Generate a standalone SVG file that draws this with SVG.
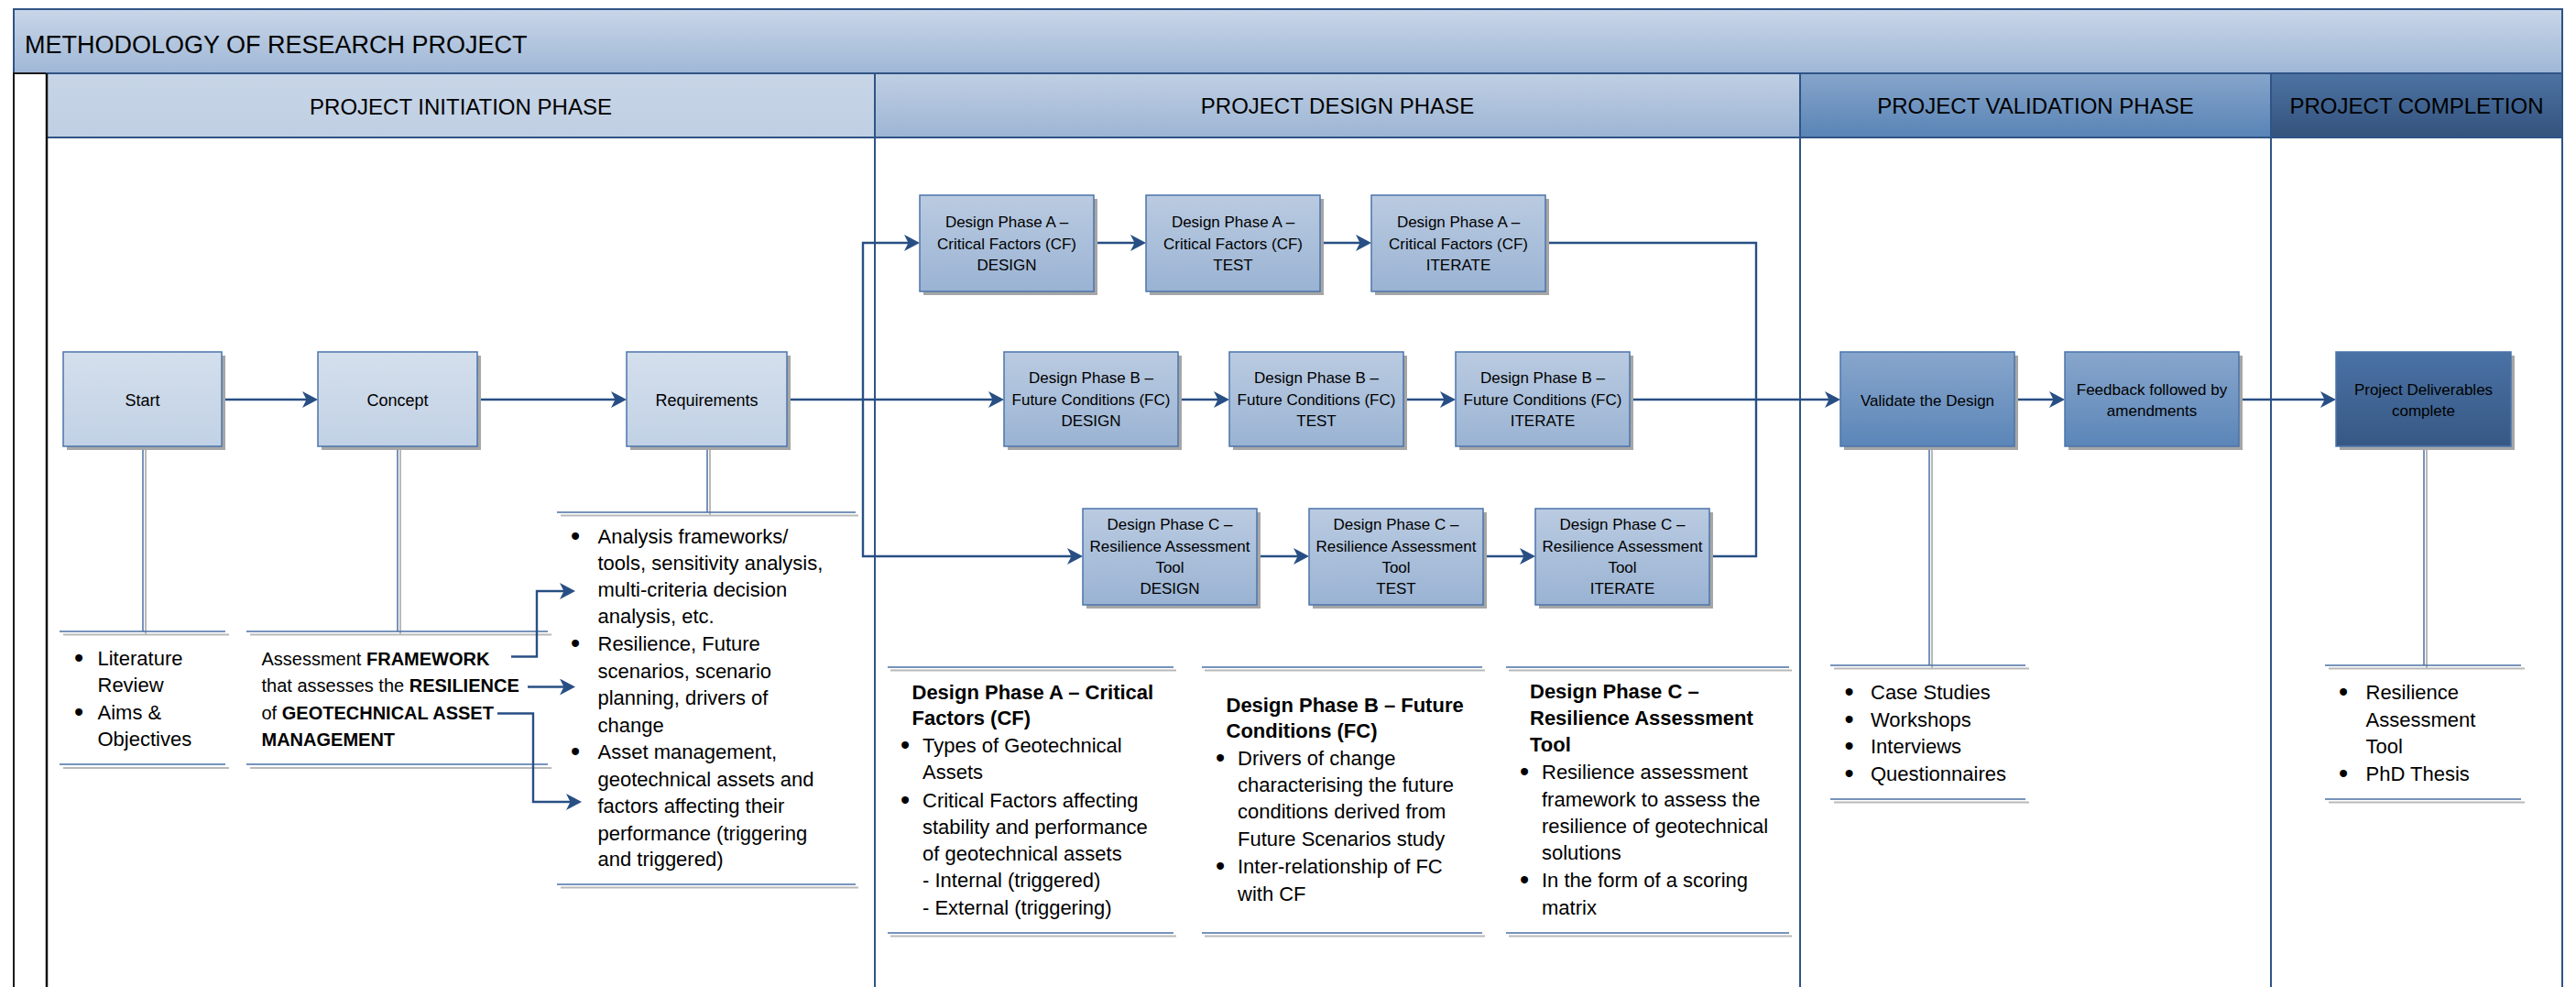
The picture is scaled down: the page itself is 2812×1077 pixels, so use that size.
<svg xmlns="http://www.w3.org/2000/svg" width="2812" height="1077" viewBox="0 0 2812 1077">
<defs>
<linearGradient id="gTitle" x1="0" y1="0" x2="0" y2="1"><stop offset="0" stop-color="#c9d6e8"/><stop offset="1" stop-color="#9fb7d6"/></linearGradient>
<linearGradient id="gHInit" x1="0" y1="0" x2="0" y2="1"><stop offset="0" stop-color="#c7d5e7"/><stop offset="1" stop-color="#c0cfe3"/></linearGradient>
<linearGradient id="gHDesign" x1="0" y1="0" x2="0" y2="1"><stop offset="0" stop-color="#c0cfe3"/><stop offset="1" stop-color="#9db5d4"/></linearGradient>
<linearGradient id="gHValid" x1="0" y1="0" x2="0" y2="1"><stop offset="0" stop-color="#86a5cb"/><stop offset="1" stop-color="#5984b6"/></linearGradient>
<linearGradient id="gHComp" x1="0" y1="0" x2="0" y2="1"><stop offset="0" stop-color="#4d73a3"/><stop offset="1" stop-color="#34537d"/></linearGradient>
<linearGradient id="gBInit" x1="0" y1="0" x2="0" y2="1"><stop offset="0" stop-color="#d4dfec"/><stop offset="1" stop-color="#c1d1e5"/></linearGradient>
<linearGradient id="gBDesign" x1="0" y1="0" x2="0" y2="1"><stop offset="0" stop-color="#bacbe1"/><stop offset="1" stop-color="#9ab3d3"/></linearGradient>
<linearGradient id="gBValid" x1="0" y1="0" x2="0" y2="1"><stop offset="0" stop-color="#88a6cc"/><stop offset="1" stop-color="#5b86b8"/></linearGradient>
<linearGradient id="gBComp" x1="0" y1="0" x2="0" y2="1"><stop offset="0" stop-color="#4a72a5"/><stop offset="1" stop-color="#375884"/></linearGradient>
<marker id="ah" viewBox="0 0 17 18" markerWidth="17" markerHeight="18" refX="11" refY="9" markerUnits="userSpaceOnUse" orient="auto">
<path d="M0,0 L17,9 L0,18 L4.5,9 Z" fill="#284f84"/>
</marker>
<style>
.sh{fill:#a6a6a6}
.bx{stroke:#4b74ab;stroke-width:1.5}
.bi{fill:url(#gBInit)}
.bd{fill:url(#gBDesign)}
.bv{fill:url(#gBValid)}
.bc{fill:url(#gBComp)}
.t{font-family:"Liberation Sans",Arial,sans-serif;fill:#000}
.bt{font-size:17px;text-anchor:middle}
.st{font-size:18px;text-anchor:middle}
.hd{font-size:24px;text-anchor:middle}
.tx{font-size:22px}
.bo{font-weight:bold}
.bul{font-size:29px;text-anchor:middle}
.lane{fill:#fff;stroke:#2f5486;stroke-width:2}
.hdr{stroke:#2f5486;stroke-width:2}
.con{fill:none;stroke:#284f84;stroke-width:2.4}
.rb{stroke:#4a6fa5;stroke-width:1.5}
.rg{stroke:#b9b9b9;stroke-width:2}
</style>
</defs>
<rect width="2812" height="1077" fill="#fff"/>

<g id="frame">
<rect x="15" y="10" width="2782" height="70" fill="url(#gTitle)" stroke="#2f5486" stroke-width="2"/>
<text class="t" x="27" y="58" font-size="27">METHODOLOGY OF RESEARCH PROJECT</text>
<rect x="15" y="80" width="36" height="1010" fill="#fff" stroke="#1a1a1a" stroke-width="2"/>
</g>

<g id="lane-initiation">
<rect class="lane" x="51" y="150" width="904" height="940"/>
<rect class="hdr" x="51" y="80" width="904" height="70" fill="url(#gHInit)"/>
<line x1="51" y1="80" x2="51" y2="1077" stroke="#111" stroke-width="2.5"/>
<text class="t hd" x="503" y="125">PROJECT INITIATION PHASE</text>
</g>
<g id="lane-design">
<rect class="lane" x="955" y="150" width="1010" height="940"/>
<rect class="hdr" x="955" y="80" width="1010" height="70" fill="url(#gHDesign)"/>
<text class="t hd" x="1460" y="124">PROJECT DESIGN PHASE</text>
</g>
<g id="lane-validation">
<rect class="lane" x="1965" y="150" width="514" height="940"/>
<rect class="hdr" x="1965" y="80" width="514" height="70" fill="url(#gHValid)"/>
<text class="t hd" x="2222" y="124">PROJECT VALIDATION PHASE</text>
</g>
<g id="lane-completion">
<rect class="lane" x="2479" y="150" width="318" height="940"/>
<rect class="hdr" x="2479" y="80" width="318" height="70" fill="url(#gHComp)"/>
<text class="t hd" x="2638" y="124">PROJECT COMPLETION</text>
</g>

<g id="callouts">
<line class="rg" x1="159" y1="487" x2="159" y2="692"/><line class="rb" x1="156" y1="487" x2="156" y2="689"/>
<line class="rg" x1="69" y1="692.5" x2="250" y2="692.5"/><line class="rb" x1="65" y1="689" x2="246" y2="689"/>
<line class="rg" x1="69" y1="838" x2="250" y2="838"/><line class="rb" x1="65" y1="834" x2="246" y2="834"/>
<line class="rg" x1="437" y1="487" x2="437" y2="692"/><line class="rb" x1="434" y1="487" x2="434" y2="689"/>
<line class="rg" x1="273" y1="692.5" x2="602" y2="692.5"/><line class="rb" x1="269" y1="689" x2="598" y2="689"/>
<line class="rg" x1="273" y1="838" x2="602" y2="838"/><line class="rb" x1="269" y1="834" x2="598" y2="834"/>
<line class="rg" x1="775" y1="487" x2="775" y2="562"/><line class="rb" x1="772" y1="487" x2="772" y2="559"/>
<line class="rg" x1="612" y1="562.5" x2="937" y2="562.5"/><line class="rb" x1="608" y1="559" x2="934" y2="559"/>
<line class="rg" x1="612" y1="968.5" x2="937" y2="968.5"/><line class="rb" x1="608" y1="965" x2="934" y2="965"/>
<line class="rg" x1="972" y1="731.5" x2="1284" y2="731.5"/><line class="rb" x1="969" y1="728" x2="1281" y2="728"/>
<line class="rg" x1="972" y1="1021.5" x2="1284" y2="1021.5"/><line class="rb" x1="969" y1="1018" x2="1281" y2="1018"/>
<line class="rg" x1="1315" y1="731.5" x2="1621" y2="731.5"/><line class="rb" x1="1312" y1="728" x2="1618" y2="728"/>
<line class="rg" x1="1315" y1="1021.5" x2="1621" y2="1021.5"/><line class="rb" x1="1312" y1="1018" x2="1618" y2="1018"/>
<line class="rg" x1="1647" y1="731.5" x2="1956" y2="731.5"/><line class="rb" x1="1644" y1="728" x2="1953" y2="728"/>
<line class="rg" x1="1647" y1="1021.5" x2="1956" y2="1021.5"/><line class="rb" x1="1644" y1="1018" x2="1953" y2="1018"/>
<line class="rg" x1="2109" y1="487" x2="2109" y2="729"/><line class="rb" x1="2106" y1="487" x2="2106" y2="726"/>
<line class="rg" x1="2002" y1="729.5" x2="2215" y2="729.5"/><line class="rb" x1="1998" y1="726" x2="2211" y2="726"/>
<line class="rg" x1="2002" y1="875.5" x2="2215" y2="875.5"/><line class="rb" x1="1998" y1="872" x2="2211" y2="872"/>
<line class="rg" x1="2649" y1="487" x2="2649" y2="729"/><line class="rb" x1="2646" y1="487" x2="2646" y2="726"/>
<line class="rg" x1="2542" y1="729.5" x2="2756" y2="729.5"/><line class="rb" x1="2538" y1="726" x2="2752" y2="726"/>
<line class="rg" x1="2542" y1="875.5" x2="2756" y2="875.5"/><line class="rb" x1="2538" y1="872" x2="2752" y2="872"/>
</g>

<g id="connectors">
<path class="con" d="M242 436 H341" marker-end="url(#ah)"/>
<path class="con" d="M521 436 H678" marker-end="url(#ah)"/>
<path class="con" d="M859 436 H1090" marker-end="url(#ah)"/>
<path class="con" d="M942 436 V265 H998" marker-end="url(#ah)"/>
<path class="con" d="M942 436 V607 H1176" marker-end="url(#ah)"/>
<path class="con" d="M1194 265 H1245" marker-end="url(#ah)"/>
<path class="con" d="M1441 265 H1491" marker-end="url(#ah)"/>
<path class="con" d="M1286 436 H1336" marker-end="url(#ah)"/>
<path class="con" d="M1532 436 H1583" marker-end="url(#ah)"/>
<path class="con" d="M1372 607 H1423" marker-end="url(#ah)"/>
<path class="con" d="M1619 607 H1670" marker-end="url(#ah)"/>
<path class="con" d="M1687 265 H1917 V607 H1866"/>
<path class="con" d="M1779 436 H2003" marker-end="url(#ah)"/>
<path class="con" d="M2199 436 H2248" marker-end="url(#ah)"/>
<path class="con" d="M2444 436 H2544" marker-end="url(#ah)"/>
<path class="con" d="M558 716.5 H586 V645 H622" marker-end="url(#ah)"/>
<path class="con" d="M576 749.5 H622" marker-end="url(#ah)"/>
<path class="con" d="M543 778.5 H582 V875 H629" marker-end="url(#ah)"/>
</g>

<g id="node-start">
<rect class="sh" x="73" y="388" width="173" height="103"/>
<rect class="bx bi" x="69" y="384" width="173" height="103"/>
<text class="t st" x="155.5" y="443">Start</text>
</g>
<g id="node-concept">
<rect class="sh" x="351" y="388" width="174" height="103"/>
<rect class="bx bi" x="347" y="384" width="174" height="103"/>
<text class="t st" x="434" y="443">Concept</text>
</g>
<g id="node-requirements">
<rect class="sh" x="688" y="388" width="175" height="103"/>
<rect class="bx bi" x="684" y="384" width="175" height="103"/>
<text class="t st" x="771.5" y="443">Requirements</text>
</g>

<g id="node-a-design">
<rect class="sh" x="1008" y="217" width="190" height="105"/>
<rect class="bx bd" x="1004" y="213" width="190" height="105"/>
<text class="t bt" x="1099" y="248">Design Phase A –</text><text class="t bt" x="1099" y="272">Critical Factors (CF)</text><text class="t bt" x="1099" y="295">DESIGN</text>
</g>
<g id="node-a-test">
<rect class="sh" x="1255" y="217" width="190" height="105"/>
<rect class="bx bd" x="1251" y="213" width="190" height="105"/>
<text class="t bt" x="1346" y="248">Design Phase A –</text><text class="t bt" x="1346" y="272">Critical Factors (CF)</text><text class="t bt" x="1346" y="295">TEST</text>
</g>
<g id="node-a-iterate">
<rect class="sh" x="1501" y="217" width="190" height="105"/>
<rect class="bx bd" x="1497" y="213" width="190" height="105"/>
<text class="t bt" x="1592" y="248">Design Phase A –</text><text class="t bt" x="1592" y="272">Critical Factors (CF)</text><text class="t bt" x="1592" y="295">ITERATE</text>
</g>

<g id="node-b-design">
<rect class="sh" x="1100" y="388" width="190" height="103"/>
<rect class="bx bd" x="1096" y="384" width="190" height="103"/>
<text class="t bt" x="1191" y="418">Design Phase B –</text><text class="t bt" x="1191" y="442">Future Conditions (FC)</text><text class="t bt" x="1191" y="465">DESIGN</text>
</g>
<g id="node-b-test">
<rect class="sh" x="1346" y="388" width="190" height="103"/>
<rect class="bx bd" x="1342" y="384" width="190" height="103"/>
<text class="t bt" x="1437" y="418">Design Phase B –</text><text class="t bt" x="1437" y="442">Future Conditions (FC)</text><text class="t bt" x="1437" y="465">TEST</text>
</g>
<g id="node-b-iterate">
<rect class="sh" x="1593" y="388" width="190" height="103"/>
<rect class="bx bd" x="1589" y="384" width="190" height="103"/>
<text class="t bt" x="1684" y="418">Design Phase B –</text><text class="t bt" x="1684" y="442">Future Conditions (FC)</text><text class="t bt" x="1684" y="465">ITERATE</text>
</g>

<g id="node-c-design">
<rect class="sh" x="1186" y="559" width="190" height="105"/>
<rect class="bx bd" x="1182" y="555" width="190" height="105"/>
<text class="t bt" x="1277" y="578">Design Phase C –</text><text class="t bt" x="1277" y="602">Resilience Assessment</text><text class="t bt" x="1277" y="625">Tool</text><text class="t bt" x="1277" y="648">DESIGN</text>
</g>
<g id="node-c-test">
<rect class="sh" x="1433" y="559" width="190" height="105"/>
<rect class="bx bd" x="1429" y="555" width="190" height="105"/>
<text class="t bt" x="1524" y="578">Design Phase C –</text><text class="t bt" x="1524" y="602">Resilience Assessment</text><text class="t bt" x="1524" y="625">Tool</text><text class="t bt" x="1524" y="648">TEST</text>
</g>
<g id="node-c-iterate">
<rect class="sh" x="1680" y="559" width="190" height="105"/>
<rect class="bx bd" x="1676" y="555" width="190" height="105"/>
<text class="t bt" x="1771" y="578">Design Phase C –</text><text class="t bt" x="1771" y="602">Resilience Assessment</text><text class="t bt" x="1771" y="625">Tool</text><text class="t bt" x="1771" y="648">ITERATE</text>
</g>

<g id="node-validate">
<rect class="sh" x="2013" y="388" width="190" height="103"/>
<rect class="bx bv" x="2009" y="384" width="190" height="103"/>
<text class="t bt" x="2104" y="442.5">Validate the Design</text>
</g>
<g id="node-feedback">
<rect class="sh" x="2258" y="388" width="190" height="103"/>
<rect class="bx bv" x="2254" y="384" width="190" height="103"/>
<text class="t bt" x="2349" y="431">Feedback followed by</text><text class="t bt" x="2349" y="453.5">amendments</text>
</g>
<g id="node-deliverables">
<rect class="sh" x="2554" y="388" width="191" height="103"/>
<rect class="bx bc" x="2550" y="384" width="191" height="103"/>
<text class="t bt" x="2645.5" y="431">Project Deliverables</text><text class="t bt" x="2645.5" y="453.5">complete</text>
</g>

<g id="note-start">
<text class="t bul" x="86" y="727.5">•</text><text class="t tx" x="106.5" y="725.5">Literature</text>
<text class="t tx" x="106.5" y="755">Review</text>
<text class="t bul" x="86" y="787">•</text><text class="t tx" x="106.5" y="785">Aims &amp;</text>
<text class="t tx" x="106.5" y="814">Objectives</text>
</g>
<g id="note-concept">
<text class="t" font-size="20" x="285.5" y="725.5">Assessment <tspan class="bo">FRAMEWORK</tspan></text>
<text class="t" font-size="20" x="285.5" y="755">that assesses the <tspan class="bo">RESILIENCE</tspan></text>
<text class="t" font-size="20" x="285.5" y="785">of <tspan class="bo">GEOTECHNICAL ASSET</tspan></text>
<text class="t bo" font-size="20" x="285.5" y="814">MANAGEMENT</text>
</g>
<g id="note-requirements">
<text class="t bul" x="628" y="594.5">•</text><text class="t tx" x="652.5" y="592.5">Analysis frameworks/</text>
<text class="t tx" x="652.5" y="621.5">tools, sensitivity analysis,</text>
<text class="t tx" x="652.5" y="651">multi-criteria decision</text>
<text class="t tx" x="652.5" y="680">analysis, etc.</text>
<text class="t bul" x="628" y="712">•</text><text class="t tx" x="652.5" y="710">Resilience, Future</text>
<text class="t tx" x="652.5" y="739.5">scenarios, scenario</text>
<text class="t tx" x="652.5" y="769">planning, drivers of</text>
<text class="t tx" x="652.5" y="798.5">change</text>
<text class="t bul" x="628" y="830">•</text><text class="t tx" x="652.5" y="828">Asset management,</text>
<text class="t tx" x="652.5" y="857.5">geotechnical assets and</text>
<text class="t tx" x="652.5" y="887">factors affecting their</text>
<text class="t tx" x="652.5" y="916.5">performance (triggering</text>
<text class="t tx" x="652.5" y="945">and triggered)</text>
</g>
<g id="note-design-a">
<text class="t tx bo" font-size="21" x="995.5" y="763">Design Phase A – Critical</text>
<text class="t tx bo" font-size="21" x="995.5" y="791">Factors (CF)</text>
<text class="t bul" x="988" y="823">•</text><text class="t tx" x="1007" y="821">Types of Geotechnical</text>
<text class="t tx" x="1007" y="850">Assets</text>
<text class="t bul" x="988" y="883">•</text><text class="t tx" x="1007" y="881">Critical Factors affecting</text>
<text class="t tx" x="1007" y="910">stability and performance</text>
<text class="t tx" x="1007" y="939">of geotechnical assets</text>
<text class="t tx" x="1007" y="968">- Internal (triggered)</text>
<text class="t tx" x="1007" y="997.5">- External (triggering)</text>
</g>
<g id="note-design-b">
<text class="t tx bo" font-size="21" x="1338.5" y="776.5">Design Phase B – Future</text>
<text class="t tx bo" font-size="21" x="1338.5" y="805">Conditions (FC)</text>
<text class="t bul" x="1332" y="837">•</text><text class="t tx" x="1351" y="835">Drivers of change</text>
<text class="t tx" x="1351" y="864">characterising the future</text>
<text class="t tx" x="1351" y="893">conditions derived from</text>
<text class="t tx" x="1351" y="922.5">Future Scenarios study</text>
<text class="t bul" x="1332" y="955">•</text><text class="t tx" x="1351" y="953">Inter-relationship of FC</text>
<text class="t tx" x="1351" y="982.5">with CF</text>
</g>
<g id="note-design-c">
<text class="t tx bo" font-size="21" x="1670" y="762">Design Phase C –</text>
<text class="t tx bo" font-size="21" x="1670" y="791">Resilience Assessment</text>
<text class="t tx bo" font-size="21" x="1670" y="820">Tool</text>
<text class="t bul" x="1664" y="852">•</text><text class="t tx" x="1683" y="850">Resilience assessment</text>
<text class="t tx" x="1683" y="879.5">framework to assess the</text>
<text class="t tx" x="1683" y="909">resilience of geotechnical</text>
<text class="t tx" x="1683" y="938">solutions</text>
<text class="t bul" x="1664" y="970">•</text><text class="t tx" x="1683" y="968">In the form of a scoring</text>
<text class="t tx" x="1683" y="997.5">matrix</text>
</g>
<g id="note-validation">
<text class="t bul" x="2018.5" y="764.5">•</text><text class="t tx" x="2042" y="762.5">Case Studies</text>
<text class="t bul" x="2018.5" y="794.5">•</text><text class="t tx" x="2042" y="792.5">Workshops</text>
<text class="t bul" x="2018.5" y="824">•</text><text class="t tx" x="2042" y="822">Interviews</text>
<text class="t bul" x="2018.5" y="854">•</text><text class="t tx" x="2042" y="852">Questionnaires</text>
</g>
<g id="note-completion">
<text class="t bul" x="2558" y="765">•</text><text class="t tx" x="2582.5" y="763">Resilience</text>
<text class="t tx" x="2582.5" y="792.5">Assessment</text>
<text class="t tx" x="2582.5" y="822">Tool</text>
<text class="t bul" x="2558" y="853.5">•</text><text class="t tx" x="2582.5" y="851.5">PhD Thesis</text>
</g>
</svg>
